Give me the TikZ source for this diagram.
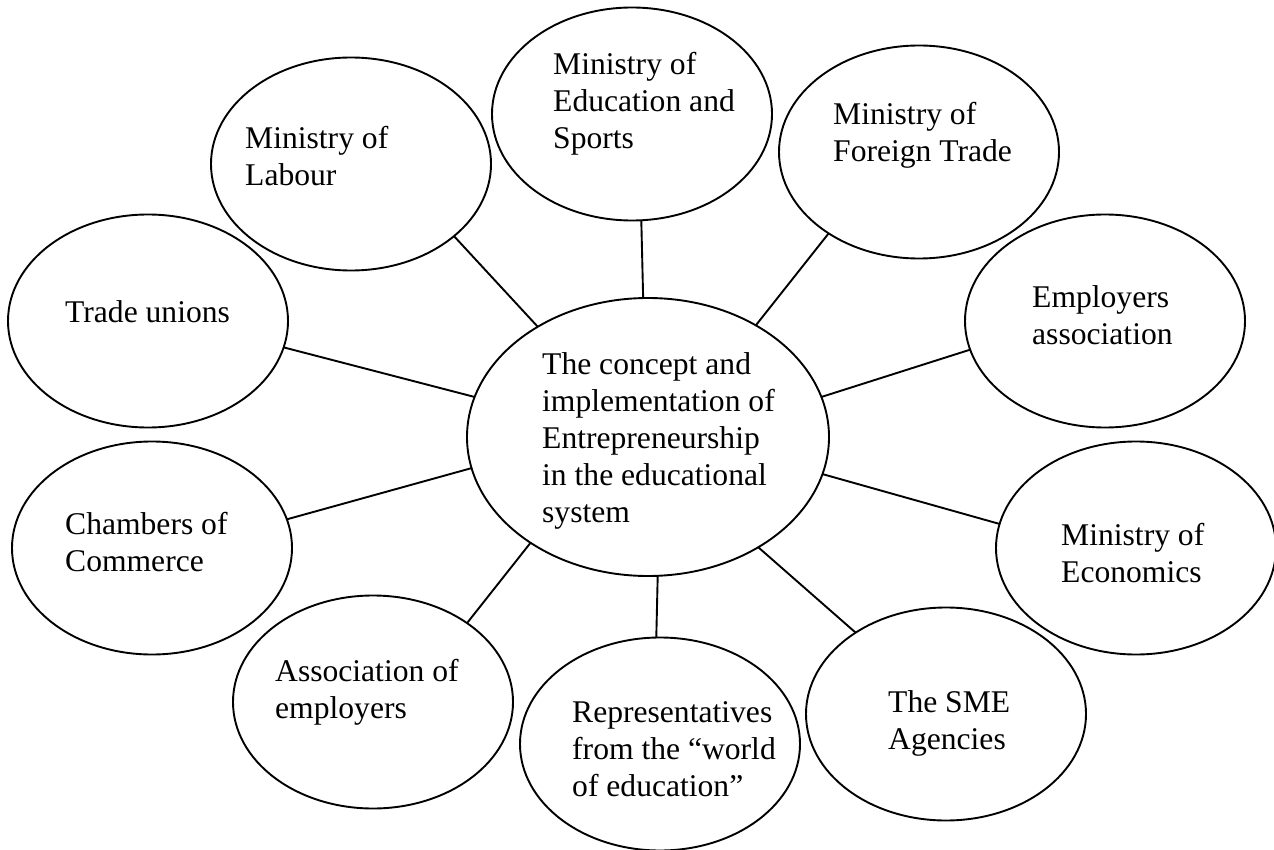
\documentclass[tikz,border=0pt]{standalone}
\usepackage{fontspec}
\setmainfont{Liberation Serif}
\usetikzlibrary{shapes.geometric}
\begin{document}
\begin{tikzpicture}[x=1pt,y=-1pt,
  bub/.style={ellipse, draw, line width=1.9pt, minimum width=280pt, minimum height=213pt, inner sep=0pt, outer sep=0pt},
  hub/.style={bub, minimum width=362pt, minimum height=278pt},
  lbl/.style={anchor=base west, align=left, font=\fontsize{31.6}{37}\selectfont, inner sep=0pt},
  link/.style={line width=1.9pt}]
\useasboundingbox[fill=white] (0,0) rectangle (1274,850);
% ellipses
\node[hub] (c)   at (648,437) {};
\node[bub] (lab) at (351,164) {};
\node[bub] (edu) at (632,114) {};
\node[bub] (for) at (919,152) {};
\node[bub] (tu)  at (148,321) {};
\node[bub] (emp) at (1105,321) {};
\node[bub] (cha) at (152,548) {};
\node[bub] (eco) at (1136,548) {};
\node[bub] (ass) at (373,702) {};
\node[bub] (rep) at (660,744) {};
\node[bub] (sme) at (946,714) {};
% labels (anchored at the baseline of their last line)
\node[lbl] (tc)   at (542,522) {The concept and\\implementation of\\Entrepreneurship\\in the educational\\system};
\node[lbl] (tlab) at (245,186) {Ministry of\\Labour};
\node[lbl] (tedu) at (553,149) {Ministry of\\Education and\\Sports};
\node[lbl] (tfor) at (833,162) {Ministry of\\Foreign Trade};
\node[lbl] (ttu)  at (65,323)  {Trade unions};
\node[lbl] (temp) at (1032,344) {Employers\\association};
\node[lbl] (tcha) at (65,571)  {Chambers of\\Commerce};
\node[lbl] (teco) at (1061,582) {Ministry of\\Economics};
\node[lbl] (tass) at (275,718) {Association of\\employers};
\node[lbl] (trep) at (572,796) {Representatives\\from the “world\\of education”};
\node[lbl] (tsme) at (888,749) {The SME\\Agencies};
% connectors
\draw[link] (lab.-35)   -- (c.135.5);
\draw[link] (edu.-85)   -- (c.92.5);
\draw[link] (for.-138)  -- (c.46.3);
\draw[link] (tu.-11.6)  -- (c.167.2);
\draw[link] (emp.-168)  -- (c.13.9);
\draw[link] (cha.12.3)  -- (c.-170);
\draw[link] (eco.170.3) -- (c.-12.9);
\draw[link] (ass.40)    -- (c.-138.2);
\draw[link] (rep.92)    -- (c.-86.7);
\draw[link] (sme.138.4) -- (c.-45.3);
\end{tikzpicture}
\end{document}
